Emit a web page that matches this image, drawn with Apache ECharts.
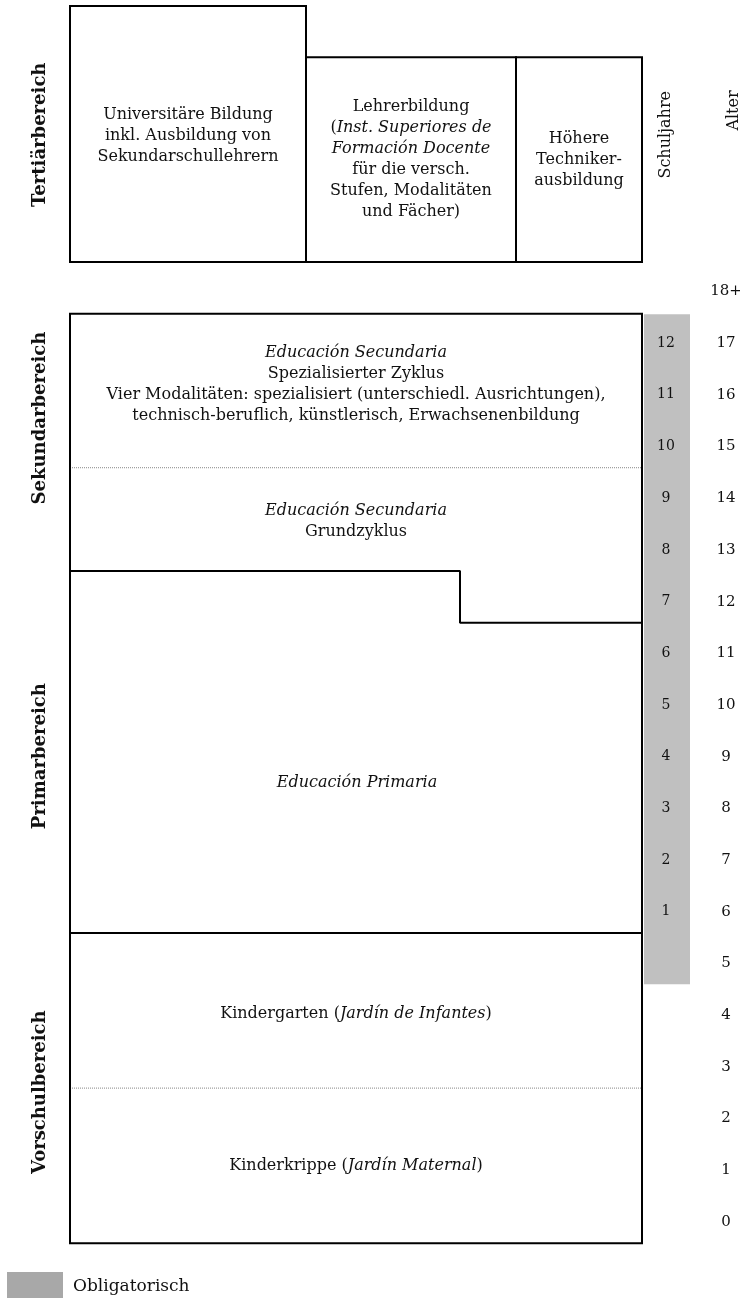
<!DOCTYPE html>
<html>
<head>
<meta charset="utf-8">
<script src="https://cdn.jsdelivr.net/npm/echarts@6/dist/echarts.min.js"></script>
<style>
  html, body { margin: 0; padding: 0; background: #fff; }
  #chart { width: 740px; height: 1298px; }
</style>
</head>
<body>
<div id="chart"></div>
<script>
// vertical scale = age in years (label of age a sits at a), horizontal = width units 0..740
const ageLabels = ['0', '1', '2', '3', '4', '5', '6', '7', '8', '9', '10', '11', '12', '13', '14', '15', '16', '17', '18+'];
const schoolYears = [1, 2, 3, 4, 5, 6, 7, 8, 9, 10, 11, 12];
const firstSchoolAge = 6;

// framed blocks: [left, right, fromAge, toAge]
const blockNames = ['Hauptblock', 'Universität', 'Lehrerbildung', 'Technikerausbildung'];
const blockLeft = [70, 70, 306, 516];
const blockRight = [642, 306, 516, 642];
const blockFrom = [-0.41, 18.57, 18.57, 18.57];
const blockTo = [17.57, 23.52, 22.53, 22.53];

// solid stage borders inside the main block
const primaryStart = 5.59;
const secondaryStepLeft = 12.59;
const secondaryStepRight = 11.59;
const stepX = 460;
// dotted sub-borders
const kinderStart = 2.59;
const specialStart = 14.59;

// compulsory schooling band
const compulsoryFrom = 4.6;
const compulsoryTo = 17.56;

// texts inside blocks: [x, age]
const boxTexts = [
  'Universitäre Bildung\ninkl. Ausbildung von\nSekundarschullehrern',
  'Lehrerbildung\n({i|Inst. Superiores de}\n{i|Formación Docente}\nfür die versch.\nStufen, Modalitäten\nund Fächer)',
  'Höhere\nTechniker-\nausbildung',
  '{i|Educación Secundaria}\nSpezialisierter Zyklus\nVier Modalitäten: spezialisiert (unterschiedl. Ausrichtungen),\ntechnisch-beruflich, künstlerisch, Erwachsenenbildung',
  '{i|Educación Secundaria}\nGrundzyklus',
  '{i|Educación Primaria}',
  'Kindergarten ({i|Jardín de Infantes})',
  'Kinderkrippe ({i|Jardín Maternal})'
];
const boxTextX = [188, 411, 579, 356, 356, 357, 356, 356];
const boxTextAge = [21.0, 20.55, 20.55, 16.2, 13.55, 8.5, 4.02, 1.08];

const levelNames = ['Tertiärbereich', 'Sekundarbereich', 'Primarbereich', 'Vorschulbereich'];
const levelAge = [21.03, 15.55, 9.01, 2.51];

const FONT = '"DejaVu Serif", "Liberation Serif", serif';

const rectData = blockNames.map((n, i) => [blockLeft[i], blockRight[i], blockFrom[i], blockTo[i]]);

function rectItem(params, api) {
  const p0 = api.coord([api.value(0), api.value(3)]);
  const p1 = api.coord([api.value(1), api.value(2)]);
  return {
    type: 'rect',
    shape: { x: p0[0], y: p0[1], width: p1[0] - p0[0], height: p1[1] - p0[1] },
    style: { fill: 'none', stroke: '#000', lineWidth: 2 }
  };
}

const chart = echarts.init(document.getElementById('chart'));
chart.setOption({
  animation: false,
  grid: { left: 0, right: 0, top: 1.9, bottom: 24.3, outerBoundsMode: 'none' },
  legend: {
    left: 7, top: 1272, padding: 0,
    itemWidth: 56, itemHeight: 30, itemGap: 0,
    icon: 'rect',
    textStyle: { fontFamily: FONT, fontSize: 17, color: '#111', padding: [0, 0, 0, 5] },
    data: [{ name: 'Obligatorisch', itemStyle: { color: '#a8a8a8' } }]
  },
  xAxis: { type: 'value', min: 0, max: 740, show: false },
  yAxis: [
    {
      type: 'value', min: -1, max: 23.6, interval: 1, position: 'right', z: 10,
      axisLine: { show: false }, axisTick: { show: false }, splitLine: { show: false },
      axisLabel: {
        inside: true, margin: 14, align: 'center', showMaxLabel: false,
        fontFamily: FONT, fontSize: 15, color: '#111',
        formatter: v => (v >= 0 && v < ageLabels.length ? ageLabels[v] : '')
      }
    },
    {
      type: 'value', min: -1, max: 23.6, interval: 1, position: 'right', z: 10,
      axisLine: { show: false }, axisTick: { show: false }, splitLine: { show: false },
      axisLabel: {
        inside: true, margin: 74, align: 'center', showMaxLabel: false,
        fontFamily: FONT, fontSize: 14, color: '#111',
        formatter: v => {
          const y = v - firstSchoolAge + 1;
          return schoolYears.indexOf(y) >= 0 ? String(y) : '';
        }
      }
    }
  ],
  series: [
    {
      name: 'Obligatorisch',
      type: 'custom',
      itemStyle: { color: '#c0c0c0' },
      data: [[644, 690, compulsoryFrom, compulsoryTo]],
      renderItem: (params, api) => {
        const p0 = api.coord([api.value(0), api.value(3)]);
        const p1 = api.coord([api.value(1), api.value(2)]);
        return {
          type: 'rect',
          shape: { x: p0[0], y: p0[1], width: p1[0] - p0[0], height: p1[1] - p0[1] },
          style: { fill: '#c0c0c0' }
        };
      },
      z: 1
    },
    {
      type: 'line', symbol: 'none', z: 3,
      lineStyle: { color: '#888', width: 1, type: [1, 1] },
      data: [[70, kinderStart], [642, kinderStart]]
    },
    {
      type: 'line', symbol: 'none', z: 3,
      lineStyle: { color: '#888', width: 1, type: [1, 1] },
      data: [[70, specialStart], [642, specialStart]]
    },
    {
      type: 'line', symbol: 'none', z: 4,
      lineStyle: { color: '#000', width: 2 },
      data: [[70, primaryStart], [642, primaryStart]]
    },
    {
      type: 'line', symbol: 'none', z: 4,
      lineStyle: { color: '#000', width: 2 },
      data: [[70, secondaryStepLeft], [stepX, secondaryStepLeft], [stepX, secondaryStepRight], [642, secondaryStepRight]]
    },
    {
      type: 'custom', z: 5,
      data: rectData,
      renderItem: rectItem
    },
    {
      type: 'custom', z: 6,
      data: boxTexts.map((t, i) => [boxTextX[i], boxTextAge[i], i]),
      renderItem: (params, api) => {
        const p = api.coord([api.value(0), api.value(1)]);
        return {
          type: 'text', x: p[0], y: p[1],
          style: {
            text: boxTexts[api.value(2)],
            fontFamily: FONT, fontSize: 16, lineHeight: 21, fill: '#111',
            align: 'center', verticalAlign: 'middle',
            rich: { i: { fontStyle: 'italic', fontFamily: FONT, fontSize: 16, lineHeight: 21 } }
          }
        };
      }
    },
    {
      type: 'custom', z: 6,
      data: levelNames.map((t, i) => [40, levelAge[i], i]),
      renderItem: (params, api) => {
        const p = api.coord([api.value(0), api.value(1)]);
        return {
          type: 'text', x: p[0], y: p[1], rotation: Math.PI / 2,
          style: {
            text: levelNames[api.value(2)],
            fontFamily: FONT, fontSize: 18, fontWeight: 'bold', fill: '#111',
            align: 'center', verticalAlign: 'middle'
          }
        };
      }
    },
    {
      type: 'custom', z: 6,
      data: [[666, 21.03, 0], [734, 21.5, 1]],
      renderItem: (params, api) => {
        const p = api.coord([api.value(0), api.value(1)]);
        return {
          type: 'text', x: p[0], y: p[1], rotation: Math.PI / 2,
          style: {
            text: ['Schuljahre', 'Alter'][api.value(2)],
            fontFamily: FONT, fontSize: 16, fill: '#111',
            align: 'center', verticalAlign: 'middle'
          }
        };
      }
    }
  ]
});
</script>
</body>
</html>
